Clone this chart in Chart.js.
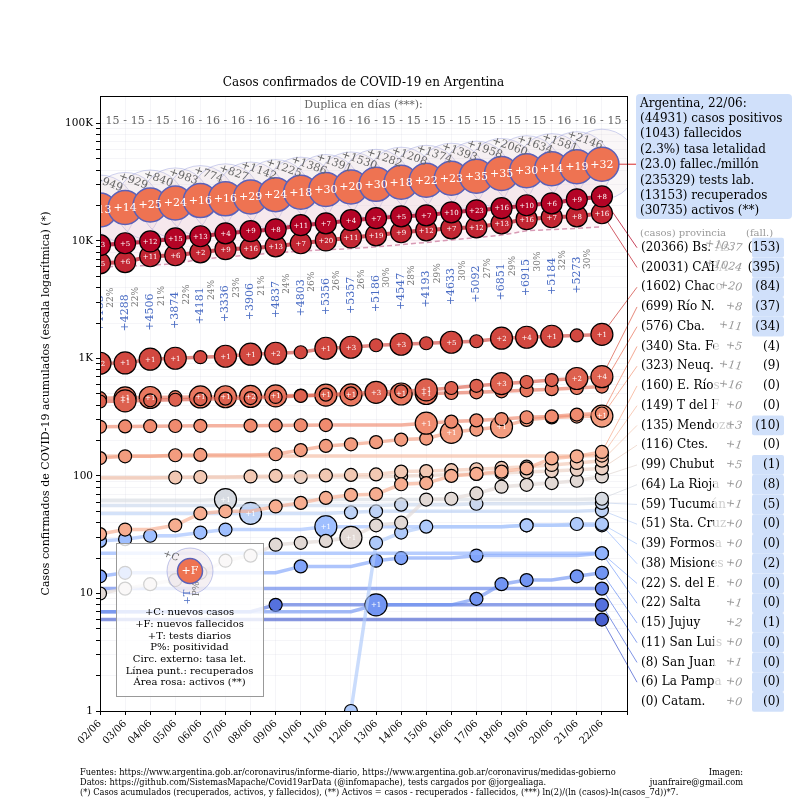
<!DOCTYPE html>
<html>
<head>
<meta charset="utf-8">
<script src="https://cdn.jsdelivr.net/npm/chart.js@4.4.0/dist/chart.umd.min.js"></script>
<style>
  body { margin: 0; background: #fff; }
  #wrap { width: 800px; height: 800px; }
</style>
</head>
<body>
<div id="wrap"><canvas id="c" width="800" height="800"></canvas></div>
<script>
// ---- datos ----
var dates = ['02/06','03/06','04/06','05/06','06/06','07/06','08/06','09/06','10/06','11/06','12/06',
             '13/06','14/06','15/06','16/06','17/06','18/06','19/06','20/06','21/06','22/06'];
var argCases = [18319, 19268, 20197, 21037, 22020, 22794, 23620, 24761, 25987, 27373, 28764,
                30295, 31577, 32785, 34159, 35552, 37510, 39570, 41204, 42785, 44931];
var argNew = [904, 949, 929, 840, 983, 774, 827, 1142, 1225, 1386, 1391,
              1530, 1282, 1208, 1374, 1393, 1958, 2060, 1634, 1581, 2146];
var argNewDeaths = [13, 14, 25, 24, 16, 16, 29, 24, 18, 30, 20, 30, 18, 22, 23, 35, 35, 30, 14, 19, 32];
var argRecovered = [6000, 6100, 6200, 6400, 7000, 7300, 7600, 7900, 8200, 8400, 8600,
                    8900, 9300, 9700, 10200, 10700, 11200, 12200, 12500, 12800, 13153];
var tests = [4185, 4288, 4506, 3874, 4181, 3336, 3906, 4837, 4803, 5356, 5357,
             5186, 4547, 4193, 4633, 5092, 6851, 6915, 5184, 5273];
var positivity = [22, 22, 21, 22, 24, 23, 21, 24, 26, 26, 26, 30, 28, 29, 30, 27, 29, 30, 32, 30];
var doubling = [15, 15, 15, 16, 16, 16, 16, 16, 16, 16, 16, 15, 15, 15, 15, 15, 15, 15, 16, 16, 15];

var argSummary = ['Argentina, 22/06:', '(44931) casos positivos', '(1043) fallecidos', '(2.3%) tasa letalidad',
                  '(23.0) fallec./millón', '(235329) tests lab.', '(13153) recuperados', '(30735) activos (**)'];

var provNames = ['Bs. As.', 'CABA', 'Chaco', 'Río N.', 'Cba.', 'Sta. Fe', 'Neuq.', 'E. Ríos', 'T del F', 'Mendoza',
                 'Ctes.', 'Chubut', 'La Rioja', 'Tucumán', 'Sta. Cruz', 'Formosa', 'Misiones', 'S. del E.',
                 'Salta', 'Jujuy', 'San Luis', 'San Juan', 'La Pampa', 'Catam.'];
var provCases = [20366, 20031, 1602, 699, 576, 340, 323, 160, 149, 135, 116, 99, 64, 59, 51, 39, 38, 22, 22, 15, 11, 8, 6, 0];
var provNew = [1037, 1024, 20, 8, 11, 5, 11, 16, 0, 3, 1, 5, 0, 1, 0, 0, 0, 0, 1, 2, 0, 1, 0, 0];
var provFall = [153, 395, 84, 37, 34, 4, 9, 0, 0, 10, 0, 1, 8, 5, 0, 0, 2, 0, 0, 1, 0, 0, 0, 0];
var fallBoxed = [1, 1, 1, 1, 1, 0, 0, 0, 0, 1, 0, 1, 1, 1, 1, 1, 1, 1, 1, 1, 1, 1, 1, 1];

// casos acumulados por provincia (02/06 .. 22/06)
var pBsAs = [9200, 9550, 9900, 10500, 10950, 11600, 12100, 12550, 13600, 14100, 15000, 15600, 16200, 16500, 17500, 18200, 19000, 20100, 20900, 22600, 23900];
var pCABA = [6450, 6600, 7400, 7550, 8000, 8500, 8650, 9000, 9550, 10100, 10700, 11150, 11850, 12300, 12800, 13050, 14100, 15300, 15900, 16200, 17200];
var pChaco = [910, 915, 985, 1004, 1024, 1044, 1086, 1107, 1129, 1221, 1245, 1295, 1320, 1346, 1373, 1400, 1486, 1515, 1545, 1570, 1602];
var pRioN = [430, 435, 440, 445, 450, 455, 460, 470, 480, 492, 505, 515, 525, 540, 560, 585, 610, 630, 655, 675, 699];
var pCba = [459, 462, 465, 468, 470, 472, 475, 480, 483, 487, 490, 495, 498, 503, 508, 515, 525, 535, 548, 560, 576];
var pStaFe = [262, 264, 265, 266, 267, 267, 268, 269, 270, 271, 271, 271, 271, 281, 290, 297, 305, 316, 321, 333, 340];
var pNeuq = [142, 147, 147, 150, 151, 151, 151, 153, 166, 180, 186, 194, 204, 208, 235, 248, 262, 300, 315, 320, 323];
var pERios = [32, 35, 35, 38, 48, 50, 50, 55, 59, 65, 69, 70, 85, 87, 100, 104, 109, 116, 141, 147, 160];
var pTdF = [148, 148, 148, 148, 148, 148, 148, 148, 148, 148, 148, 148, 148, 148, 148, 148, 148, 148, 148, 148, 149];
var pMendoza = [96, 96, 96, 97, 98, 98, 99, 100, 100, 101, 102, 103, 109, 110, 112, 114, 117, 120, 124, 129, 135];
var pCtes = [97, 97, 97, 97, 97, 97, 97, 97, 98, 98, 98, 98, 100, 101, 103, 104, 106, 108, 110, 113, 116];
var pChubut = [10, 11, 12, 13, 15, 19, 21, 26, 27, 28, 30, 38, 40, 63, 64, 71, 81, 84, 87, 91, 99];
var pLaRioja = [62, 62, 62, 62, 62, 63, 63, 63, 63, 63, 63, 63, 63, 63, 63, 63, 63, 63, 63, 63, 64];
var pTucuman = [56, 56, 56, 56, 56, 56, 56, 56, 56, 56, 56, 56, 57, 57, 57, 58, 58, 58, 58, 58, 59];
var pStaCruz = [48, 48, 48, 48, 48, 48, 48, 48, 48, 48, 49, 50, 50, 50, 50, 50, 50, 50, 50, 50, 51];
var pFormosa = [null, null, null, null, null, null, null, null, null, null, 1, 27, 33, 37, 37, 37, 37, 38, 38, 39, 39];
var pMisiones = [28, 29, 31, 31, 33, 35, 35, 35, 35, 37, 37, 37, 37, 37, 37, 37, 37, 38, 38, 38, 38];
var pSdelE = [22, 22, 22, 22, 22, 22, 22, 22, 22, 22, 22, 22, 22, 22, 22, 22, 22, 22, 22, 22, 22];
var pSalta = [14, 15, 15, 15, 15, 15, 15, 15, 17, 17, 17, 19, 20, 20, 20, 21, 21, 21, 21, 21, 22];
var pJujuy = [7, 7, 7, 7, 7, 7, 7, 7, 7, 7, 7, 8, 8, 8, 8, 9, 12, 13, 13, 14, 15];
var pSanLuis = [11, 11, 11, 11, 11, 11, 11, 11, 11, 11, 11, 11, 11, 11, 11, 11, 11, 11, 11, 11, 11];
var pSanJuan = [7, 7, 7, 7, 7, 7, 7, 8, 8, 8, 8, 8, 8, 8, 8, 8, 8, 8, 8, 8, 8];
var pLaPampa = [6, 6, 6, 6, 6, 6, 6, 6, 6, 6, 6, 6, 6, 6, 6, 6, 6, 6, 6, 6, 6];
var pCatam = [0, 0, 0, 0, 0, 0, 0, 0, 0, 0, 0, 0, 0, 0, 0, 0, 0, 0, 0, 0, 0];

// nuevos fallecidos por provincia
var fBsAs = [3, 5, 12, 15, 13, 4, 9, 8, 11, 7, 4, 7, 5, 7, 10, 23, 16, 10, 6, 9, 8];
var fCABA = [5, 6, 11, 6, 2, 9, 16, 13, 7, 20, 11, 19, 9, 12, 7, 12, 13, 16, 7, 8, 16];
var fChaco = [2, 1, 1, 1, 0, 1, 1, 2, 0, 1, 3, 0, 3, 0, 5, 0, 2, 4, 1, 0, 1];
var fRioN = [0, 1, 0, 0, 0, 0, 0, 0, 0, 0, 0, 3, 0, 1, 0, 0, 3, 0, 0, 2, 4];
var fCba = [0, 1, 1, 0, 1, 1, 2, 1, 0, 1, 1, 0, 1, 1, 0, 0, 0, 0, 0, 0, 0];
var fStaFe = [0, 0, 0, 0, 0, 0, 0, 0, 0, 0, 0, 0, 0, 1, 0, 0, 0, 0, 0, 0, 0];
var fNeuq = [0, 0, 0, 0, 0, 0, 0, 0, 0, 0, 0, 0, 0, 0, 1, 0, 1, 0, 0, 0, 1];
var fChubut = [0, 0, 0, 0, 0, 0, 0, 0, 0, 0, 1, 0, 0, 0, 0, 0, 0, 0, 0, 0, 0];
var fLaRioja = [0, 0, 0, 0, 0, 1, 0, 0, 0, 0, 0, 0, 0, 0, 0, 0, 0, 0, 0, 0, 0];
var fStaCruz = [0, 0, 0, 0, 0, 0, 1, 0, 0, 0, 0, 0, 0, 0, 0, 0, 0, 0, 0, 0, 0];
var fMisiones = [0, 0, 0, 0, 0, 0, 0, 0, 0, 1, 0, 0, 0, 0, 0, 0, 0, 0, 0, 0, 0];
var fJujuy = [0, 0, 0, 0, 0, 0, 0, 0, 0, 0, 0, 1, 0, 0, 0, 0, 0, 0, 0, 0, 0];

var provSeries = [pBsAs, pCABA, pChaco, pRioN, pCba, pStaFe, pNeuq, pERios, pTdF, pMendoza, pCtes, pChubut,
                  pLaRioja, pTucuman, pStaCruz, pFormosa, pMisiones, pSdelE, pSalta, pJujuy, pSanLuis,
                  pSanJuan, pLaPampa, pCatam];
var provDeaths = [fBsAs, fCABA, fChaco, fRioN, fCba, fStaFe, fNeuq, [], [], [], [], fChubut,
                  fLaRioja, [], fStaCruz, [], fMisiones, [], [], fJujuy, [], [], [], []];

var footer = [
  'Fuentes: https://www.argentina.gob.ar/coronavirus/informe-diario, https://www.argentina.gob.ar/coronavirus/medidas-gobierno',
  'Datos: https://github.com/SistemasMapache/Covid19arData (@infomapache), tests cargados por @jorgealiaga.',
  '(*) Casos acumulados (recuperados, activos, y fallecidos), (**) Activos = casos - recuperados - fallecidos, (***) ln(2)/(ln (casos)-ln(casos_7d))*7.'
];
var legendLines = ['+C: nuevos casos', '+F: nuevos fallecidos', '+T: tests diarios', 'P%: positividad',
                   'Circ. externo: tasa let.', 'Línea punt.: recuperados', 'Área rosa: activos (**)'];

// ---- estilos ----
var SERIF = "'DejaVu Serif', serif";
var COND = "'DejaVu Serif Condensed', 'DejaVu Serif', serif";
Chart.defaults.font.family = SERIF;
Chart.defaults.color = '#000';

var cwStops = [[59,76,192],[89,119,227],[123,159,249],[158,190,255],[192,212,245],[221,221,221],
               [242,203,183],[247,172,142],[238,132,104],[214,82,68],[180,4,38]];
function coolwarm(t) {
  var p = t * 10, i = Math.min(9, Math.floor(p)), f = p - i;
  return cwStops[i].map(function(v, k) { return Math.round(v + (cwStops[i + 1][k] - v) * f); });
}
function rgba(c, a) { return 'rgba(' + c[0] + ',' + c[1] + ',' + c[2] + ',' + a + ')'; }
var provColors = provNames.map(function(n, r) { return coolwarm(1 - r / (provNames.length - 1)); });

function rtext(ctx, txt, x, y, ang, font, color, align, base) {
  ctx.save();
  ctx.translate(x, y);
  ctx.rotate(ang * Math.PI / 180);
  ctx.font = font;
  ctx.fillStyle = color;
  ctx.textAlign = align || 'center';
  ctx.textBaseline = base || 'middle';
  ctx.fillText(txt, 0, 0);
  ctx.restore();
}
function rowY(r) { return 247.7 + 19.75 * r; }

// ---- datasets ----
var datasets = [];
datasets.push({
  label: 'Argentina',
  data: argCases.map(function(v, i) { return { x: i, y: v }; }),
  showLine: false, pointRadius: 17, pointHoverRadius: 17,
  pointBackgroundColor: '#ee7352', pointBorderColor: '#5b61b8', pointBorderWidth: 1.5, clip: 0
});
provSeries.forEach(function(ser, r) {
  var c = provColors[r], dd = provDeaths[r];
  var rad = ser.map(function(v, i) {
    if (!(v > 0)) return 0;
    if ((dd[i] || 0) > 0) return r < 2 ? 10.5 : 11;
    if (i === ser.length - 1) return 6.5;
    if (i === 0) return ser[1] !== v ? 6.5 : 0;
    return v !== ser[i - 1] ? 6.5 : 0;
  });
  datasets.push({
    label: provNames[r],
    data: ser.map(function(v, i) { return { x: i, y: v > 0 ? v : null }; }),
    borderColor: rgba(c, r < 2 ? 0.8 : 0.65), borderWidth: r < 2 ? 4 : 3.5,
    pointRadius: rad, pointHoverRadius: rad,
    pointBackgroundColor: rgba(c, 1), pointBorderColor: '#000', pointBorderWidth: 1.2,
    clip: 0, spanGaps: false
  });
});
var recIdx = datasets.length;
datasets.push({
  label: 'recuperados',
  data: argRecovered.map(function(v, i) { return { x: i, y: v }; }),
  borderColor: '#d89ab5', borderDash: [5, 3], borderWidth: 1.5, pointRadius: 0, clip: 0
});
datasets.push({
  label: 'activos',
  data: argCases.map(function(v, i) { return { x: i, y: v }; }),
  borderWidth: 0, pointRadius: 0, fill: recIdx, backgroundColor: 'rgba(250,185,205,0.14)', clip: 0
});
datasets.push({
  label: 'letalidad',
  data: argCases.map(function(v, i) { return { x: i, y: v }; }),
  showLine: false, pointRadius: 35, pointHoverRadius: 35,
  pointBackgroundColor: 'rgba(222,205,214,0.16)', pointBorderColor: 'rgba(120,130,210,0.35)',
  pointBorderWidth: 1, clip: 0
});

// ---- textos sobre el gráfico ----
var overlay = {
  id: 'overlay',
  beforeDatasetsDraw: function(chart) {
    var ctx = chart.ctx;
    ctx.save();
    ctx.lineWidth = 1;
    provSeries.forEach(function(ser, r) {
      var last = ser[ser.length - 1];
      if (!(last > 0)) return;
      var p = chart.getDatasetMeta(r + 1).data[ser.length - 1];
      ctx.strokeStyle = rgba(provColors[r], 0.75);
      ctx.beginPath();
      ctx.moveTo(p.x, p.y);
      ctx.lineTo(637, rowY(r));
      ctx.stroke();
    });
    var pa = chart.getDatasetMeta(0).data[argCases.length - 1];
    ctx.strokeStyle = '#d62728';
    ctx.beginPath();
    ctx.moveTo(pa.x, pa.y);
    ctx.lineTo(636, pa.y);
    ctx.stroke();
    ctx.restore();
  },
  afterDatasetsDraw: function(chart) {
    var ctx = chart.ctx, a = chart.chartArea, xs = chart.scales.x, ys = chart.scales.y;
    ctx.save();
    ctx.beginPath();
    ctx.rect(a.left, a.top, a.right - a.left, a.bottom - a.top);
    ctx.clip();

    // fallecidos en provincias
    provSeries.forEach(function(ser, r) {
      var dd = provDeaths[r], meta = chart.getDatasetMeta(r + 1);
      ser.forEach(function(v, i) {
        if ((dd[i] || 0) > 0 && v > 0) {
          var p = meta.data[i];
          rtext(ctx, '+' + dd[i], p.x, p.y + 0.5, 0, '7px ' + SERIF, '#fff');
        }
      });
    });

    // Argentina
    var m0 = chart.getDatasetMeta(0);
    argCases.forEach(function(v, i) {
      var p = m0.data[i];
      rtext(ctx, '+' + argNewDeaths[i], p.x, p.y + 0.5, 0, '11px ' + SERIF, '#fff');
      rtext(ctx, '+' + argNew[i], p.x - 17, p.y - 24, 20, '11px ' + SERIF, '#666');
    });

    // tests y positividad
    tests.forEach(function(t, i) {
      var x = xs.getPixelForValue(i), yc = ys.getPixelForValue(argRecovered[i] * 0.4);
      rtext(ctx, '+' + t, x, yc, -90, '11px ' + SERIF, '#4a6cc4');
      rtext(ctx, positivity[i] + '%', x + 11, yc - 16, -90, '9px ' + SERIF, '#777');
    });

    // duplicación
    rtext(ctx, 'Duplica en días (***):', (a.left + a.right) / 2, a.top + 9, 0, '11px ' + SERIF, '#666');
    doubling.forEach(function(d, i) {
      rtext(ctx, String(d), xs.getPixelForValue(i + 0.5), a.top + 25, 0, '11px ' + SERIF, '#666');
      rtext(ctx, '-', xs.getPixelForValue(i + 1), a.top + 25, 0, '11px ' + SERIF, '#666');
    });
    ctx.restore();
  },
  afterDraw: function(chart) {
    var ctx = chart.ctx, a = chart.chartArea;
    ctx.save();
    // marco
    ctx.strokeStyle = '#000';
    ctx.lineWidth = 1;
    ctx.strokeRect(a.left + 0.5, a.top + 0.5, a.right - a.left, a.bottom - a.top);

    // título
    rtext(ctx, 'Casos confirmados de COVID-19 en Argentina', (a.left + a.right) / 2, 83, 0, '12px ' + SERIF, '#000');

    // resumen Argentina
    ctx.fillStyle = 'rgba(205,222,250,0.95)';
    ctx.beginPath();
    ctx.roundRect(636, 94, 156, 125, 4);
    ctx.fill();
    argSummary.forEach(function(t, k) {
      rtext(ctx, t, 640, 103.5 + 15.4 * k, 0, '12px ' + SERIF, '#000', 'left');
    });

    // provincias
    rtext(ctx, '(casos) provincia', 640, 233, 0, '10px ' + SERIF, '#999', 'left');
    rtext(ctx, '(fall.)', 746, 233, 0, '10px ' + SERIF, '#999', 'left');
    provNames.forEach(function(n, r) {
      var y = rowY(r);
      rtext(ctx, '(' + provCases[r] + ') ' + n, 641, y, 0, '12px ' + SERIF, '#000', 'left');
      ctx.fillStyle = 'rgba(255,255,255,0.8)';
      ctx.beginPath();
      ctx.roundRect(714, y - 9, 36, 18, 3);
      ctx.fill();
      rtext(ctx, '+' + provNew[r], 742, y + 1, 8, 'italic 11px ' + SERIF, '#999', 'right');
      if (fallBoxed[r]) {
        ctx.fillStyle = 'rgba(205,222,250,0.95)';
        ctx.beginPath();
        ctx.roundRect(752, y - 9.9, 32, 19.8, 2);
        ctx.fill();
      }
      rtext(ctx, '(' + provFall[r] + ')', 780, y, 0, '12px ' + SERIF, '#000', 'right');
    });

    // leyenda de símbolos
    ctx.fillStyle = 'rgba(255,255,255,0.82)';
    ctx.fillRect(116, 543, 147, 153);
    ctx.strokeStyle = '#999';
    ctx.strokeRect(116.5, 543.5, 147, 153);
    ctx.beginPath();
    ctx.arc(190, 571, 23, 0, 2 * Math.PI);
    ctx.fillStyle = 'rgba(222,205,214,0.3)';
    ctx.fill();
    ctx.strokeStyle = 'rgba(120,130,210,0.45)';
    ctx.stroke();
    ctx.beginPath();
    ctx.arc(190, 571, 12.5, 0, 2 * Math.PI);
    ctx.fillStyle = '#ee7352';
    ctx.fill();
    ctx.lineWidth = 1.5;
    ctx.strokeStyle = '#5b61b8';
    ctx.stroke();
    rtext(ctx, '+F', 190, 571.5, 0, '11px ' + SERIF, '#fff');
    rtext(ctx, '+C', 171, 556, 20, '10px ' + SERIF, '#666');
    rtext(ctx, '+T', 187, 597, -90, '10px ' + SERIF, '#4a6cc4');
    rtext(ctx, 'P%', 197, 589, -90, '9px ' + SERIF, '#777');
    legendLines.forEach(function(t, k) {
      rtext(ctx, t, 189.5, 612.7 + 11.7 * k, 0, '10px ' + SERIF, '#000');
    });

    // pie
    footer.forEach(function(t, k) {
      rtext(ctx, t, 80, 773 + 10 * k, 0, '9.2px ' + COND, '#000', 'left');
    });
    rtext(ctx, 'Imagen:', 743, 773, 0, '9.2px ' + COND, '#000', 'right');
    rtext(ctx, 'juanfraire@gmail.com', 743, 783, 0, '9.2px ' + COND, '#000', 'right');
    ctx.restore();
  }
};

var yLabels = { 1: '1', 10: '10', 100: '100', 1000: '1K', 10000: '10K', 100000: '100K' };

new Chart(document.getElementById('c'), {
  type: 'line',
  data: { datasets: datasets },
  options: {
    responsive: false,
    animation: false,
    events: [],
    layout: { padding: { left: 40, right: 173, top: 96, bottom: 29 } },
    plugins: { legend: { display: false }, tooltip: { enabled: false }, title: { display: false } },
    scales: {
      x: {
        type: 'linear', min: 0, max: 21,
        afterFit: function(s) { s.height = 60; },
        ticks: {
          stepSize: 1, autoSkip: false, maxRotation: 45, minRotation: 45,
          font: { size: 10 }, color: '#000',
          callback: function(v) { return dates[v] || ''; }
        },
        grid: { color: 'rgba(200,200,215,0.18)', tickColor: '#000', tickLength: 4 },
        border: { color: '#000' }
      },
      y: {
        type: 'logarithmic', min: 1, max: 171000,
        afterFit: function(s) { s.width = 60; },
        afterBuildTicks: function(s) {
          var t = [];
          for (var e = 0; e <= 5; e++) {
            for (var m = 1; m < 10; m++) {
              var v = m * Math.pow(10, e);
              if (v <= s.max) t.push({ value: v, major: m === 1 });
            }
          }
          s.ticks = t;
        },
        ticks: {
          autoSkip: false, font: { size: 10.5 }, color: '#000', padding: 3,
          callback: function(v) { return yLabels[v] || ''; }
        },
        grid: { color: 'rgba(200,200,215,0.18)', tickColor: '#000', tickLength: 4 },
        border: { color: '#000' },
        title: {
          display: true, text: 'Casos confirmados de COVID-19 acumulados (escala logarítmica) (*)',
          font: { size: 11 }, color: '#000', padding: 0
        }
      }
    }
  },
  plugins: [overlay]
});
</script>
</body>
</html>
